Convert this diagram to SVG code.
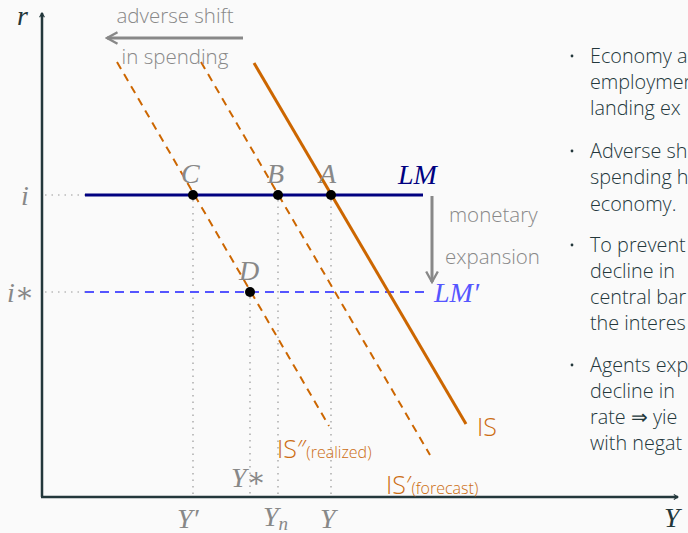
<svg xmlns="http://www.w3.org/2000/svg" width="688" height="533" viewBox="0 0 688 533">
<defs>
<marker id="axarr" viewBox="0 0 10 10" refX="8" refY="5" markerWidth="6" markerHeight="6" orient="auto" markerUnits="userSpaceOnUse">
<path d="M1,1 L8,5 L1,9" fill="none" stroke="#23373b" stroke-width="2"/>
</marker>
<marker id="grarr" viewBox="0 0 12 12" refX="10" refY="6" markerWidth="14" markerHeight="14" orient="auto" markerUnits="userSpaceOnUse">
<path d="M1,1 L10,6 L1,11" fill="none" stroke="#888" stroke-width="2"/>
</marker>
<style>
.math{font-family:"Liberation Serif","DejaVu Serif",serif;font-style:italic;font-size:28px;fill:#888}
.sans{font-family:"Open Sans","Noto Sans",sans-serif;font-weight:300}
.note{font-size:20.5px;fill:#888}
.bul{font-size:19.8px;fill:#23373b}
.isl{fill:#cc6d12}
.dot{stroke:#999;stroke-width:1.2;stroke-dasharray:1.5 5;fill:none}
.pt{fill:#000}
</style>
</defs>
<rect width="688" height="533" fill="#fafafa"/>

<g id="axes">
<line x1="42" y1="497" x2="42" y2="13" stroke="#23373b" stroke-width="2.5" marker-end="url(#axarr)"/>
<line x1="41" y1="497" x2="678" y2="497" stroke="#23373b" stroke-width="2.5" marker-end="url(#axarr)"/>
<text class="math" x="17" y="25" style="fill:#23373b">r</text>
<text class="math" x="664" y="527" style="fill:#23373b">Y</text>
</g>

<g id="connectors">
<line class="dot" x1="45" y1="195" x2="85" y2="195"/>
<line class="dot" x1="45" y1="292" x2="85" y2="292"/>
<line class="dot" x1="193" y1="200" x2="193" y2="497"/>
<line class="dot" x1="278" y1="200" x2="278" y2="497"/>
<line class="dot" x1="331" y1="200" x2="331" y2="497"/>
<line class="dot" x1="250" y1="297" x2="250" y2="497"/>
<line x1="85" y1="292" x2="425" y2="292" stroke="#5555ff" stroke-width="2" stroke-dasharray="9 6"/>
<line x1="117" y1="62" x2="329" y2="426" stroke="#cc6600" stroke-width="2" stroke-dasharray="8 6"/>
<line x1="201" y1="62" x2="430" y2="455" stroke="#cc6600" stroke-width="2" stroke-dasharray="8 6"/>
<line x1="254" y1="63" x2="466" y2="424" stroke="#cc6600" stroke-width="3"/>
<line x1="85" y1="195" x2="423" y2="195" stroke="#000080" stroke-width="3"/>
<line x1="243" y1="38" x2="107" y2="38" stroke="#888" stroke-width="3" marker-end="url(#grarr)"/>
<line x1="432" y1="196" x2="432" y2="282" stroke="#888" stroke-width="3" marker-end="url(#grarr)"/>
</g>

<g id="pointA"><circle class="pt" cx="331" cy="195" r="5"/><text class="math" x="319" y="183">A</text></g>
<g id="pointB"><circle class="pt" cx="278" cy="195" r="5"/><text class="math" x="267" y="183">B</text></g>
<g id="pointC"><circle class="pt" cx="193" cy="195" r="5"/><text class="math" x="181" y="183">C</text></g>
<g id="pointD"><circle class="pt" cx="250" cy="292" r="5"/><text class="math" x="239" y="280">D</text></g>

<g id="labels">
<text class="math" x="21" y="205">i</text>
<text class="math" x="7" y="302">i∗</text>
<text class="math" x="398" y="184" style="fill:#000080">LM</text>
<text class="math" x="434" y="302" style="fill:#5555ff">LM′</text>
<text class="sans note" x="175" y="23" text-anchor="middle">adverse shift</text>
<text class="sans note" x="175" y="64" text-anchor="middle">in spending</text>
<text class="sans note" x="449" y="222">monetary</text>
<text class="sans note" x="445" y="264">expansion</text>
<text class="sans isl" x="477" y="436" font-size="25">IS</text>
<text class="sans isl" x="277" y="458" font-size="25">IS″<tspan font-size="16">(realized)</tspan></text>
<text class="sans isl" x="386" y="494" font-size="25">IS′<tspan font-size="16">(forecast)</tspan></text>
<text class="math" x="231" y="487">Y∗</text>
<text class="math" x="177" y="528">Y′</text>
<text class="math" x="263" y="526">Y<tspan font-size="19" dy="4">n</tspan></text>
<text class="math" x="320" y="528">Y</text>
</g>

<g id="bullets" class="sans bul">
<circle cx="572" cy="56" r="1.4" fill="#23373b"/><text x="590" y="63">Economy a</text>
<text x="590" y="89">employmen</text>
<text x="590" y="115">landing ex</text>
<circle cx="572" cy="151" r="1.4" fill="#23373b"/><text x="590" y="158">Adverse sh</text>
<text x="590" y="184">spending h</text>
<text x="590" y="211">economy.</text>
<circle cx="572" cy="245" r="1.4" fill="#23373b"/><text x="590" y="252">To prevent</text>
<text x="590" y="278">decline in</text>
<text x="590" y="304">central bar</text>
<text x="590" y="330">the interes</text>
<circle cx="572" cy="365" r="1.4" fill="#23373b"/><text x="590" y="372">Agents exp</text>
<text x="590" y="398">decline in</text>
<text x="590" y="424">rate ⇒ yie</text>
<text x="590" y="450">with negat</text>
</g>
</svg>
